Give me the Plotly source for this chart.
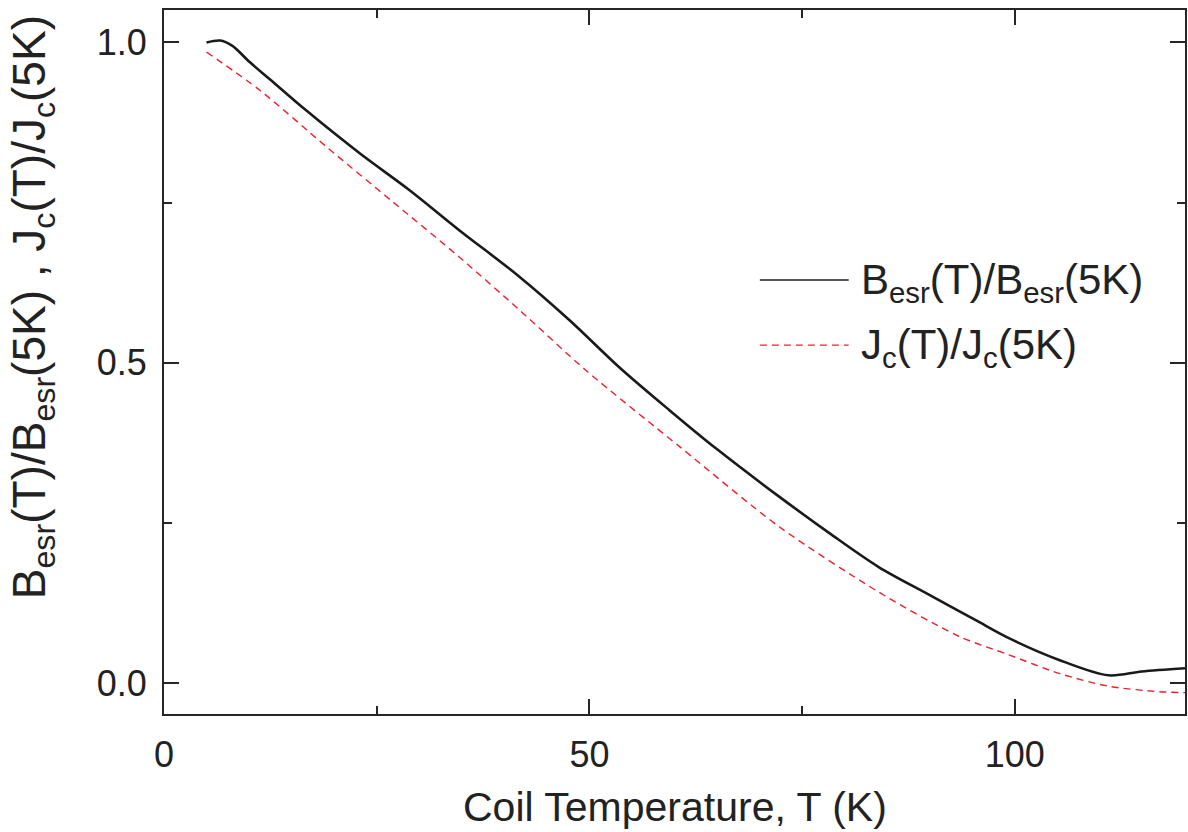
import plotly.graph_objects as go

# Normalized ESR field, B_esr(T)/B_esr(5K), versus coil temperature
t_besr = [5.0, 6.6, 8.0, 10.1, 12.4, 16.7, 23.0, 28.9, 34.7, 41.8, 47.7, 53.5,
          59.4, 64.9, 72.3, 78.2, 84.0, 89.9, 95.4, 99.3, 105.2, 111.0, 114.9, 120.0]
besr_ratio = [1.0, 1.003, 0.995, 0.969, 0.943, 0.894, 0.827, 0.769, 0.707, 0.634,
              0.566, 0.493, 0.426, 0.366, 0.291, 0.234, 0.181, 0.138, 0.098, 0.070,
              0.036, 0.012, 0.018, 0.023]

# Normalized critical current, J_c(T)/J_c(5K)
t_jc = [5.0, 11.3, 19.1, 26.9, 34.7, 41.8, 49.6, 60.6, 72.3, 84.0, 93.4, 99.3,
        105.2, 111.0, 116.9, 120.0]
jc_ratio = [0.985, 0.925, 0.837, 0.751, 0.665, 0.582, 0.488, 0.369, 0.244, 0.142,
            0.073, 0.044, 0.015, -0.005, -0.0135, -0.015]

x_ticks = [0, 50, 100]
y_ticks = [0.0, 0.5, 1.0]
y_tick_labels = ["0.0", "0.5", "1.0"]

FONT = "Liberation Sans, Arial, sans-serif"
AX = "#262626"

fig = go.Figure()
fig.add_trace(go.Scatter(
    x=t_besr, y=besr_ratio, mode="lines",
    line=dict(color="#1a1a1a", width=2.6, shape="spline", smoothing=0.9),
    name="B_esr", showlegend=False))
fig.add_trace(go.Scatter(
    x=t_jc, y=jc_ratio, mode="lines",
    line=dict(color="#f0202a", width=1.4, dash="7px,5px", shape="spline", smoothing=0.8),
    name="J_c", showlegend=False))

axis_common = dict(
    showline=True, linecolor=AX, linewidth=2, mirror="ticks",
    ticks="inside", ticklen=15, tickwidth=1.5, tickcolor=AX,
    showgrid=False, zeroline=False,
    tickfont=dict(family=FONT, size=36, color="#222222"),
)

fig.update_xaxes(range=[0, 120], tickvals=x_ticks, ticklabelstandoff=8,
                 minor=dict(dtick=25, ticks="inside", ticklen=8, tickwidth=1.5,
                            tickcolor=AX, showgrid=False),
                 **axis_common)
fig.update_yaxes(range=[-0.0484, 1.0507], tickvals=y_ticks, ticktext=y_tick_labels,
                 ticklabelstandoff=8,
                 minor=dict(dtick=0.25, ticks="inside", ticklen=8, tickwidth=1.5,
                            tickcolor=AX, showgrid=False),
                 **axis_common)

# Legend drawn by hand so the line samples are long
legend_rows = [
    (0.6165, "#1a1a1a", "solid", 1.6, "B<sub>esr</sub>(T)/B<sub>esr</sub>(5K)"),
    (0.5240, "#f0202a", "7px,5px", 1.4, "J<sub>c</sub>(T)/J<sub>c</sub>(5K)"),
]
for yp, col, dash, w, label in legend_rows:
    fig.add_shape(type="line", xref="paper", yref="paper",
                  x0=(761 - 164) / 1023, x1=(850 - 164) / 1023, y0=yp, y1=yp,
                  line=dict(color=col, width=w, dash=dash))
    fig.add_annotation(xref="paper", yref="paper", x=(860 - 164) / 1023, y=yp - 0.004,
                       xanchor="left", yanchor="middle", showarrow=False,
                       text=label, font=dict(family=FONT, size=42, color="#222222"))

# Axis titles
fig.add_annotation(xref="paper", yref="paper", x=0.5, y=-0.132,
                   xanchor="center", yanchor="middle", showarrow=False,
                   text="Coil Temperature, T (K)",
                   font=dict(family=FONT, size=41, color="#222222"))
fig.add_annotation(xref="paper", yref="paper", x=-0.160, y=0.578,
                   xanchor="left", yanchor="middle", showarrow=False, textangle=-90,
                   text="B<sub>esr</sub>(T)/B<sub>esr</sub>(5K) , J<sub>c</sub>(T)/J<sub>c</sub>(5K)",
                   font=dict(family=FONT, size=46, color="#222222"))

fig.update_layout(
    width=1188, height=832,
    margin=dict(l=164, r=1, t=10, b=118),
    paper_bgcolor="white", plot_bgcolor="white",
    showlegend=False,
)

fig.write_html("out.html")
